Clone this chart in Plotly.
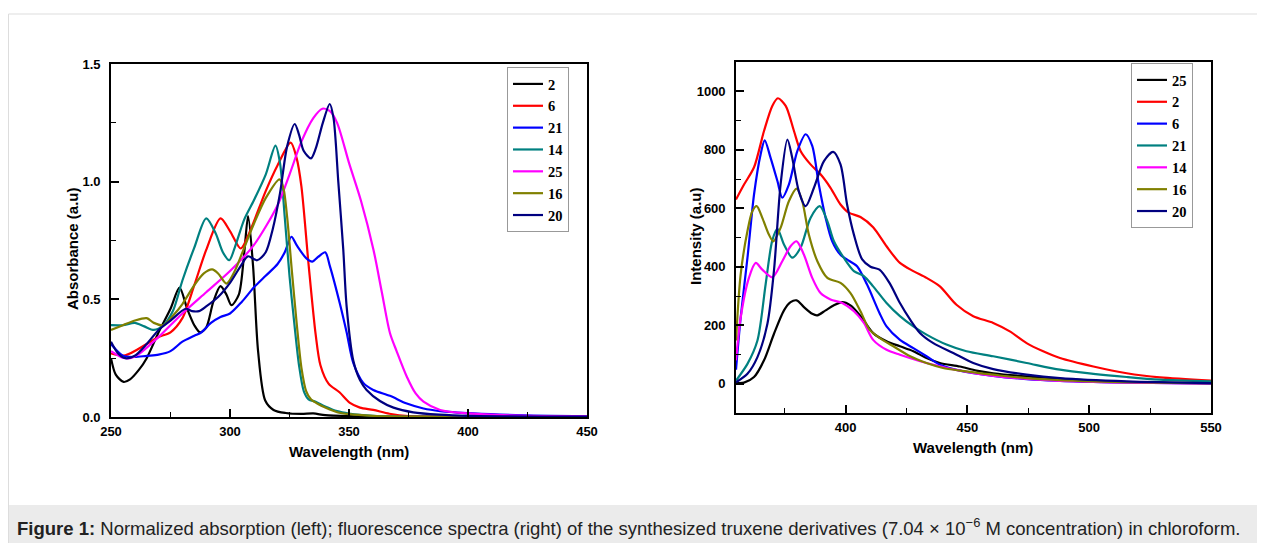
import plotly.graph_objects as go

# Absorption spectra (left panel)
abs_wl_2 = [250, 252, 255.3, 258, 261.7, 265, 270, 275, 278.8, 282, 285, 287.4, 290, 293, 296, 298.5, 300.6,
            303.7, 306, 307.6, 309.7, 311.8, 314.8, 318.3, 323.4, 330, 335, 340, 350, 370, 400, 450]
abs_2 = [0.25, 0.18, 0.149, 0.16, 0.20, 0.25, 0.36, 0.46, 0.55, 0.46, 0.39, 0.36, 0.38, 0.49, 0.556, 0.52, 0.475,
         0.52, 0.70, 0.854, 0.64, 0.28, 0.07, 0.03, 0.017, 0.013, 0.015, 0.008, 0.004, 0.002, 0.001, 0.001]

abs_wl_6 = [250, 256, 265, 270, 275, 280, 285, 290, 296, 300, 304.5, 308, 315, 320, 325.5, 328, 330, 333, 336,
            338, 341.4, 346, 350.4, 354.6, 360.2, 367, 375, 400, 450]
abs_6 = [0.27, 0.262, 0.31, 0.34, 0.36, 0.42, 0.56, 0.71, 0.844, 0.79, 0.716, 0.78, 0.96, 1.07, 1.166, 1.10, 0.98,
         0.65, 0.35, 0.22, 0.142, 0.105, 0.06, 0.04, 0.03, 0.014, 0.004, 0.001, 0.0]

abs_wl_21 = [250, 255, 260, 265, 270, 275, 280, 285, 288, 292, 296, 300, 305, 310, 315, 320, 323, 325.8, 328, 332,
             334.6, 337, 340, 342, 346.2, 349, 351.8, 356, 360.2, 367.2, 374.3, 381.3, 388.3, 402.3, 420, 450]
abs_21 = [0.31, 0.26, 0.255, 0.26, 0.265, 0.28, 0.32, 0.345, 0.36, 0.40, 0.425, 0.44, 0.49, 0.55, 0.60, 0.65, 0.70,
          0.766, 0.73, 0.675, 0.66, 0.68, 0.70, 0.64, 0.48, 0.36, 0.23, 0.145, 0.115, 0.09, 0.057, 0.036, 0.025,
          0.015, 0.008, 0.003]

abs_wl_14 = [250, 255, 260, 264, 268, 272, 276, 280, 285, 290, 294, 297, 299.7, 302, 306, 310, 315, 319.1, 321,
             323, 325, 327, 329, 331, 333, 336, 340, 345, 350, 360, 370, 400, 450]
abs_14 = [0.39, 0.39, 0.40, 0.385, 0.37, 0.39, 0.45, 0.58, 0.72, 0.844, 0.78, 0.70, 0.666, 0.72, 0.84, 0.92, 1.03,
          1.153, 1.08, 0.85, 0.60, 0.40, 0.22, 0.11, 0.075, 0.065, 0.045, 0.025, 0.015, 0.005, 0.002, 0.0, 0.0]

abs_wl_25 = [250, 255, 258, 262, 270, 280, 290, 300, 310, 320, 325, 330, 335, 338.8, 342, 345, 350, 355, 360.3,
             363.8, 367.2, 370, 374.3, 378, 381.3, 388.3, 400, 420, 450]
abs_25 = [0.28, 0.252, 0.25, 0.27, 0.34, 0.44, 0.53, 0.62, 0.73, 0.90, 1.03, 1.17, 1.27, 1.31, 1.30, 1.25, 1.08,
          0.92, 0.71, 0.53, 0.357, 0.28, 0.171, 0.10, 0.065, 0.03, 0.015, 0.006, 0.003]

abs_wl_16 = [250, 255, 260, 265, 268, 272, 276, 280, 285, 289, 292.5, 295, 298.5, 302, 306, 310, 315, 320.8, 322.5,
             324, 326, 328, 330, 332, 334, 337, 340, 345, 350, 360, 370, 400, 450]
abs_16 = [0.37, 0.39, 0.41, 0.42, 0.40, 0.39, 0.43, 0.48, 0.56, 0.61, 0.627, 0.61, 0.567, 0.62, 0.72, 0.82, 0.93,
          1.01, 0.97, 0.85, 0.62, 0.40, 0.21, 0.11, 0.075, 0.055, 0.04, 0.02, 0.012, 0.005, 0.002, 0.0, 0.0]

abs_wl_20 = [250, 253, 256, 260, 265, 270, 275, 281.4, 284, 287, 290, 295, 300, 305, 307.6, 311.4, 315, 318, 321,
             324, 327.2, 329, 331, 334, 336, 339, 341.9, 343.5, 345.5, 347.6, 349, 351.8, 354.6, 357.4, 363, 368.7,
             377, 388, 400, 450]
abs_20 = [0.32, 0.27, 0.25, 0.26, 0.31, 0.37, 0.41, 0.46, 0.45, 0.45, 0.47, 0.51, 0.57, 0.65, 0.683, 0.666, 0.70,
          0.80, 0.95, 1.15, 1.245, 1.20, 1.13, 1.099, 1.14, 1.25, 1.33, 1.27, 1.00, 0.71, 0.47, 0.24, 0.157, 0.115,
          0.068, 0.04, 0.02, 0.01, 0.005, 0.002]

# Fluorescence spectra (right panel)
fl_wl_25 = [355, 358.3, 362.4, 366.5, 370.6, 374.7, 377.4, 379.9, 382.9, 386.3, 388.4, 391.8, 395.2, 398.6, 402,
            406.1, 411.3, 416.8, 422.3, 427.8, 433.2, 438.7, 446.9, 453.7, 460.6, 474.3, 488, 515.4, 550]
fl_25 = [3, 4, 23, 80, 171, 251, 279, 285, 262, 239, 234, 251, 268, 279, 268, 232, 173, 145, 128, 111, 88, 71, 59,
         45, 36, 25, 17, 6, 1]

fl_wl_2 = [355, 358.3, 362.4, 366.5, 369.9, 372.2, 375.4, 378.8, 381.5, 385.6, 389.7, 393.8, 397.9, 401.3, 406.1,
           411.3, 416.8, 422.3, 427.8, 433.2, 438.7, 445.5, 452.4, 460.6, 467.4, 474.3, 481.1, 488, 501.7, 515.4,
           529, 550]
fl_2 = [630, 681, 740, 864, 950, 976, 950, 864, 796, 750, 716, 670, 613, 585, 570, 535, 470, 413, 385, 362, 333, 270,
        231, 208, 179, 139, 111, 88, 59, 36, 22, 11]

fl_wl_6 = [355, 356.9, 359.7, 362.4, 365.1, 366.8, 369.2, 372, 374, 376.7, 380.2, 383.6, 386.3, 389, 391.8, 394.5,
           397.9, 401.3, 404.7, 408.8, 413.9, 416.8, 422.3, 427.8, 433.2, 438.7, 446.9, 460.6, 474.3, 501.7, 550]
fl_6 = [48, 225, 430, 647, 784, 832, 772, 693, 636, 681, 796, 853, 813, 681, 567, 487, 441, 421, 402, 339, 242, 196,
        150, 122, 94, 65, 45, 27, 16, 6, 1]

fl_wl_21 = [355, 359.7, 363.8, 367.2, 369.9, 372, 374.7, 378.1, 381.5, 385.6, 389.4, 392.5, 395.2, 399.3, 403.4,
            407.5, 411.3, 416.8, 422.3, 427.8, 433.2, 441.4, 449.6, 460.6, 474.3, 488, 501.7, 515.4, 529, 550]
fl_21 = [11, 68, 148, 342, 490, 530, 476, 431, 465, 567, 607, 556, 487, 430, 385, 368, 333, 276, 231, 196, 168, 134,
         111, 94, 71, 48, 34, 23, 14, 8]

fl_wl_14 = [355, 356.9, 360.3, 363.1, 365.8, 369.9, 374, 377.4, 379.9, 382.9, 386.3, 389.7, 393.8, 398.6, 403.4,
            407.5, 411.3, 416.8, 422.3, 430.6, 438.7, 446.9, 460.6, 474.3, 501.7, 550]
fl_14 = [80, 225, 362, 413, 390, 364, 419, 470, 487, 441, 362, 310, 288, 276, 248, 208, 150, 116, 99, 77, 60, 45, 27,
         17, 6, 1]

fl_wl_16 = [355, 356.9, 359.7, 361.7, 363.5, 365.8, 368.5, 370.3, 373.3, 376.7, 379.9, 382.2, 384.9, 388.4, 392.5,
            397.9, 402, 406.1, 409.8, 413.9, 419.6, 426.5, 433.2, 440, 446.9, 460.6, 474.3, 501.7, 550]
fl_16 = [148, 373, 522, 590, 607, 567, 510, 487, 533, 624, 667, 624, 510, 419, 362, 345, 310, 248, 185, 157, 128, 94,
         71, 54, 45, 31, 19, 8, 2]

fl_wl_20 = [355, 359.7, 363.8, 367.9, 370.6, 373.3, 376.1, 378.1, 380.8, 383.6, 387, 391.1, 394.9, 397.9, 400.6,
            403.4, 406.8, 410.2, 413.9, 418, 422.3, 426.5, 430.6, 436, 444.2, 452.4, 460.6, 474.3, 488, 515.4, 550]
fl_20 = [5, 34, 91, 205, 388, 681, 835, 772, 658, 607, 670, 761, 793, 750, 613, 510, 425, 400, 390, 345, 276, 219,
         173, 139, 105, 71, 50, 31, 19, 8, 2]

abs_series = [("2", abs_wl_2, abs_2, "#000000"), ("6", abs_wl_6, abs_6, "#ff0000"),
              ("21", abs_wl_21, abs_21, "#0000ff"), ("14", abs_wl_14, abs_14, "#008080"),
              ("25", abs_wl_25, abs_25, "#ff00ff"), ("16", abs_wl_16, abs_16, "#808000"),
              ("20", abs_wl_20, abs_20, "#000080")]
fl_series = [("25", fl_wl_25, fl_25, "#000000"), ("2", fl_wl_2, fl_2, "#ff0000"),
             ("6", fl_wl_6, fl_6, "#0000ff"), ("21", fl_wl_21, fl_21, "#008080"),
             ("14", fl_wl_14, fl_14, "#ff00ff"), ("16", fl_wl_16, fl_16, "#808000"),
             ("20", fl_wl_20, fl_20, "#000080")]

# the page body has an 8px margin, so the figure starts 8px in from the window corner;
# it is kept full size and simply runs past the right/bottom edge of the window
OFF = 8
W, H = 1265, 543
SANS = "Liberation Sans, Arial, sans-serif"
SERIF = "Liberation Serif, Times New Roman, serif"


def px_x(p):
    return (p - OFF) / W


def px_y(p):
    return 1 - (p - OFF) / H


fig = go.Figure()
for name, x, y, c in abs_series:
    fig.add_trace(go.Scatter(x=x, y=y, name=name, mode="lines", xaxis="x", yaxis="y", legend="legend",
                             line=dict(color=c, width=2.2, shape="spline", smoothing=0.8)))
for name, x, y, c in fl_series:
    fig.add_trace(go.Scatter(x=x, y=y, name=name, mode="lines", xaxis="x2", yaxis="y2", legend="legend2",
                             line=dict(color=c, width=2.2, shape="spline", smoothing=0.8)))


def ax(domain, rng, dtick, minor, anchor, fmt=None, label_gap=6):
    d = dict(domain=domain, range=rng, dtick=dtick, tick0=0, anchor=anchor, automargin=False,
             showline=True, linecolor="black", linewidth=1.6, mirror=True,
             ticks="inside", ticklen=8, tickwidth=1.5, tickcolor="black",
             minor=dict(ticks="inside", ticklen=5, tickwidth=1.3, tickcolor="black", dtick=minor, tick0=0),
             showgrid=False, zeroline=False, ticklabelstandoff=label_gap,
             tickfont=dict(family=SANS, size=13, color="black", weight="bold"))
    if fmt:
        d["tickformat"] = fmt
    return d


title_font = dict(family=SANS, size=15, color="black", weight="bold")
axis_titles = [("Wavelength (nm)", 349, 451, 0), ("Absorbance (a.u)", 72, 249, -90),
               ("Wavelength (nm)", 973, 447, 0), ("Intensity (a.u)", 695, 236, -90)]
annotations = [dict(xref="paper", yref="paper", x=px_x(tx), y=px_y(ty), text=t, textangle=ang,
                    xanchor="center", yanchor="middle", showarrow=False, font=title_font)
               for t, tx, ty, ang in axis_titles]
annotations.append(
    dict(xref="paper", yref="paper", x=px_x(15), y=px_y(527), xanchor="left", yanchor="middle",
         showarrow=False, font=dict(family=SANS, size=18.5, color="#222222"),
         text="<b>Figure 1:</b> Normalized absorption (left); fluorescence spectra (right) of the synthesized "
              "truxene derivatives (7.04 × 10<sup>−6</sup> M concentration) in chloroform."))

legend_style = dict(font=dict(family=SERIF, size=14.5, color="black", weight="bold"),
                    bordercolor="#999999", borderwidth=1, bgcolor="rgba(255,255,255,0)",
                    xanchor="left", yanchor="top", tracegroupgap=0, itemwidth=30)

fig.update_layout(
    width=W, height=H,
    margin=dict(l=0, r=0, t=0, b=0, autoexpand=False),
    paper_bgcolor="white", plot_bgcolor="white",
    xaxis=ax([px_x(111), px_x(587)], [250, 450], 50, 25, "y", label_gap=2),
    yaxis=ax([px_y(417), px_y(64)], [0, 1.5], 0.5, 0.25, "x", ".1f"),
    xaxis2=ax([px_x(736), px_x(1211)], [355, 550], 50, 25, "y2", label_gap=2),
    yaxis2=ax([px_y(413), px_y(62)], [-100, 1100], 200, 100, "x2"),
    legend=dict(x=px_x(507), y=px_y(67), **legend_style),
    legend2=dict(x=px_x(1131), y=px_y(63), **legend_style),
    shapes=[
        dict(type="rect", xref="paper", yref="paper", x0=px_x(8.5), x1=px_x(1275), y0=px_y(555), y1=px_y(14),
             line=dict(color="#dddddd", width=1), fillcolor="rgba(0,0,0,0)", layer="below"),
        dict(type="rect", xref="paper", yref="paper", x0=px_x(9), x1=px_x(1275), y0=px_y(555), y1=px_y(505),
             line=dict(width=0), fillcolor="#ebebeb", layer="below"),
    ],
    annotations=annotations,
)

fig.write_html("out.html")
